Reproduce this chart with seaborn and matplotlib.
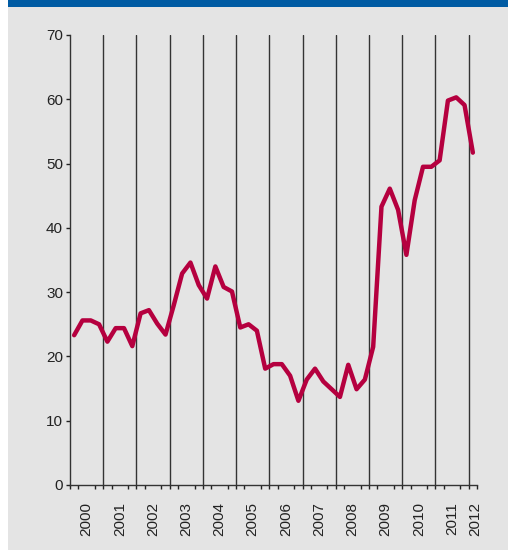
import matplotlib.pyplot as plt
import numpy as np
import pandas as pd
import seaborn as sns
from matplotlib.patches import Rectangle

# quarterly values, 2000Q1 .. 2012Q1
values = [
    23.3, 25.6, 25.6, 25.0,   # 2000
    22.3, 24.4, 24.4, 21.6,   # 2001
    26.7, 27.2, 25.1, 23.4,   # 2002
    28.0, 32.9, 34.6, 31.1,   # 2003
    29.0, 34.0, 30.8, 30.1,   # 2004
    24.5, 25.0, 24.0, 18.1,   # 2005
    18.8, 18.8, 17.0, 13.1,   # 2006
    16.4, 18.1, 16.1, 14.9,   # 2007
    13.7, 18.7, 14.9, 16.4,   # 2008
    21.5, 43.3, 46.1, 42.8,   # 2009
    35.8, 44.3, 49.5, 49.5,   # 2010
    50.5, 59.8, 60.3, 59.1,   # 2011
    51.7,                     # 2012
]
years = [str(y) for y in range(2000, 2013)]
y_ticks = [0, 10, 20, 30, 40, 50, 60, 70]

BG = "#e4e4e4"
LINE = "#b5003f"
BLUE = "#005ba3"
TEXT = "#222222"

df = pd.DataFrame({"q": np.arange(len(values)) + 0.5, "value": values})

sns.set_style("white")
plt.rcParams["font.family"] = ["Liberation Sans", "DejaVu Sans"]

fig = plt.figure(figsize=(5.08, 5.5), dpi=100)
fig.patch.set_facecolor("white")
fig.add_artist(Rectangle((8 / 508, 0), 1 - 8 / 508, 1 - 7 / 550,
                         transform=fig.transFigure, facecolor=BG,
                         edgecolor="none", zorder=0))
fig.add_artist(Rectangle((8 / 508, 1 - 7 / 550), 1 - 8 / 508, 7 / 550,
                         transform=fig.transFigure, facecolor=BLUE,
                         edgecolor="none", zorder=0))

ax = fig.add_axes([70 / 508, 65 / 550, 407 / 508, 450 / 550])
ax.set_facecolor("none")

# year dividers
for k in range(1, len(years)):
    ax.axvline(4 * k, color="#333333", lw=1.0, zorder=1)

sns.lineplot(data=df, x="q", y="value", ax=ax, color=LINE, lw=3.2,
             zorder=3, legend=False)

ax.set_xlim(0, len(values))
ax.set_ylim(0, 70)
ax.set_yticks(y_ticks)
ax.set_yticklabels([str(t) for t in y_ticks])

label_pos = [2 + 4 * k for k in range(len(years) - 1)] + [48.8]
ax.set_xticks(label_pos)
ax.set_xticklabels(years, rotation=90, va="top", ha="center")
ax.set_xticks(np.arange(0, len(values) + 1), minor=True)

ax.tick_params(axis="x", which="major", length=0, pad=12, labelsize=11,
               labelcolor=TEXT)
ax.tick_params(axis="x", which="minor", length=3, width=1, color="#222222",
               direction="out", bottom=True)
ax.tick_params(axis="y", length=3, width=1, color="#222222", pad=2,
               labelsize=11, labelcolor=TEXT, left=True)

for s in ["top", "right"]:
    ax.spines[s].set_visible(False)
for s in ["left", "bottom"]:
    ax.spines[s].set_color("#333333")
    ax.spines[s].set_linewidth(1.0)

ax.set_xlabel("")
ax.set_ylabel("")

fig.savefig("out.png", dpi=100, facecolor=fig.get_facecolor())
